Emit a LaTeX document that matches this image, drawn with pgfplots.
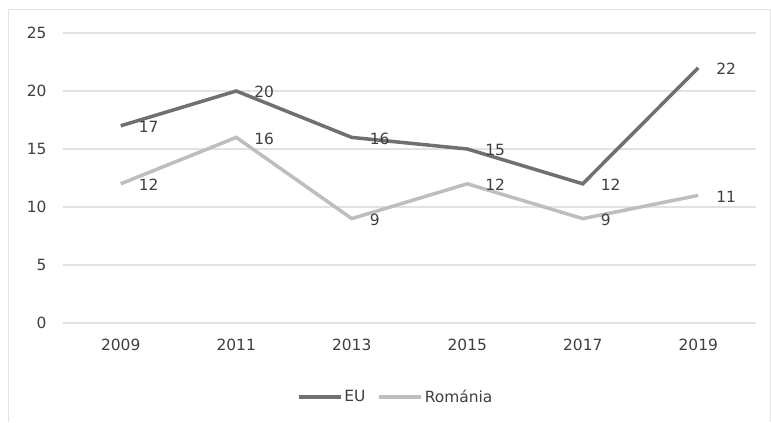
\documentclass[border=0pt]{standalone}
\usepackage{pgfplots}
\pgfplotsset{compat=1.18}
\usepackage{fontspec}
\setmainfont{DejaVu Sans}
\definecolor{eu}{HTML}{707072}
\definecolor{ro}{HTML}{BEBEBE}
\definecolor{gridc}{HTML}{E2E2E2}
\definecolor{txt}{HTML}{404040}
\definecolor{frame}{HTML}{E4E4E4}
\begin{document}
\begin{tikzpicture}[x=1bp,y=1bp]
\useasboundingbox (0,0) rectangle (771,422);
\fill[white] (0,0) rectangle (771,422);
\draw[frame, line width=1bp] (8,0) -- (8,412) -- (770.5,412) -- (770.5,0);
\begin{axis}[
  at={(63bp,99bp)}, anchor=south west,
  scale only axis, width=693bp, height=290bp,
  xmin=-0.5, xmax=5.5, ymin=0, ymax=25,
  xtick={0,1,2,3,4,5},
  xticklabels={2009,2011,2013,2015,2017,2019},
  ytick={0,5,10,15,20,25},
  axis line style={draw=none},
  major tick length=0pt,
  ymajorgrids, grid style={gridc, line width=1.3bp},
  tick label style={font=\fontsize{15.5}{18}\selectfont, text=txt},
  /pgf/number format/assume math mode=true,
  yticklabel style={xshift=-13bp},
  xticklabel style={yshift=-13bp},
  clip=false,
  legend style={at={(0.48,-0.255)}, anchor=center, draw=none, fill=none,
    legend columns=2, font=\fontsize{15.5}{18}\selectfont, text=txt,
    /tikz/every even column/.append style={column sep=10bp},
    /tikz/every odd column/.append style={inner xsep=0bp}},
  legend image code/.code={\draw[#1, line width=3.5bp] (0bp,0bp) -- (42bp,0bp);},
  nodes near coords,
  every node near coord/.append style={anchor=west, xshift=13bp, yshift=-1bp, font=\fontsize{15.5}{18}\selectfont, text=txt},
]
\addplot[eu, line width=3.5bp, mark=none] coordinates {(0,17) (1,20) (2,16) (3,15) (4,12) (5,22)};
\addlegendentry{EU}
\addplot[ro, line width=3.5bp, mark=none] coordinates {(0,12) (1,16) (2,9) (3,12) (4,9) (5,11)};
\addlegendentry{Románia}
\end{axis}
\end{tikzpicture}
\end{document}
